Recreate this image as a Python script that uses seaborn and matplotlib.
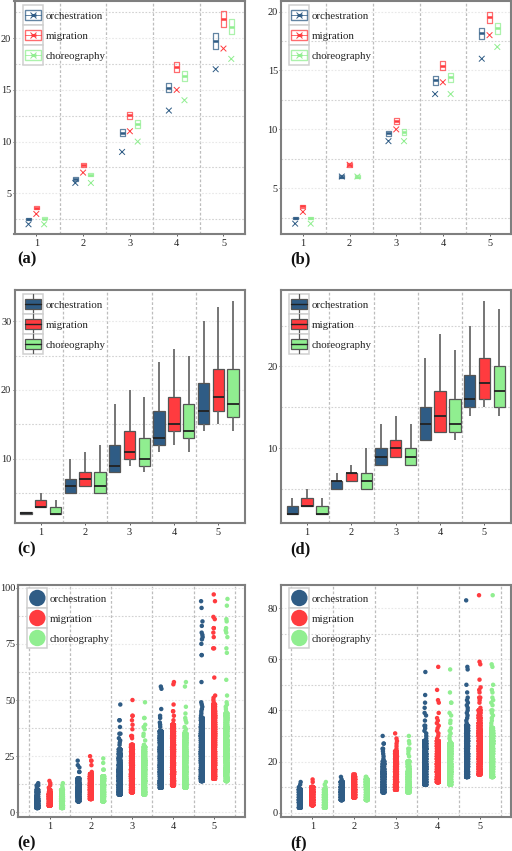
import matplotlib
matplotlib.use("Agg")
import matplotlib.pyplot as plt
import pandas as pd
import seaborn as sns
from matplotlib.legend_handler import HandlerBase
from matplotlib.lines import Line2D
from matplotlib.patches import Ellipse, Patch, Rectangle

sns.set_theme(style="white")
plt.rcParams["font.family"] = ["Liberation Serif", "DejaVu Sans"]

W, H = 512, 851
SERIES = ["orchestration", "migration", "choreography"]
COLORS = ["#2F5C85", "#FF3B3F", "#90EE90"]
PALETTE = dict(zip(SERIES, COLORS))
KEYS = [1, 2, 3, 4, 5]

# ---------- panel (a): min marker and (q1, mid, q3) box ----------
A_MIN = {"orchestration": [2, 6, 9, 13, 17], "migration": [3, 7, 11, 15, 19], "choreography": [2, 6, 10, 14, 18]}
A_ORCH = [(2.4, 2.5, 2.65), (6.2, 6.4, 6.6), (10.5, 10.85, 11.2), (14.8, 15.2, 15.65), (19.0, 19.7, 20.5)]
A_MIG = [(3.5, 3.6, 3.75), (7.55, 7.75, 7.95), (12.2, 12.55, 12.9), (16.75, 17.25, 17.7), (21.1, 21.85, 22.6)]
A_CHOR = [(2.5, 2.55, 2.7), (6.65, 6.8, 7.0), (11.3, 11.7, 12.05), (15.9, 16.3, 16.8), (20.4, 21.1, 21.85)]

# ---------- panel (b) ----------
B_MIN = {"orchestration": [2, 6, 9, 13, 16], "migration": [3, 7, 10, 14, 18], "choreography": [2, 6, 9, 13, 17]}
B_ORCH = [(2.4, 2.5, 2.6), (5.85, 6.0, 6.15), (9.45, 9.7, 9.9), (13.75, 14.2, 14.55), (17.65, 18.2, 18.6)]
B_MIG = [(3.35, 3.5, 3.6), (6.8, 7.0, 7.15), (10.45, 10.75, 11.0), (15.0, 15.4, 15.8), (19.0, 19.5, 20.0)]
B_CHOR = [(2.4, 2.5, 2.6), (5.85, 6.0, 6.15), (9.55, 9.8, 10.05), (14.0, 14.45, 14.8), (18.1, 18.6, 19.05)]

# ---------- panels (c), (d): low, q1, median, q3, high ----------
C_ORCH = [(2, 2, 2.15, 2.3, 2.3), (5, 5, 6, 7, 10), (8, 8, 9, 12, 18), (11, 12, 13, 17, 24), (14, 15, 17, 21, 30)]
C_MIG = [(3, 3, 3, 4, 5), (6, 6, 7, 8, 11), (9, 10, 11, 14, 20), (12, 14, 15, 19, 26), (15, 17, 19, 23, 32)]
C_CHOR = [(2, 2, 2, 3, 4), (5, 5, 6, 8, 12), (8, 9, 10, 13, 19), (11, 13, 14, 18, 25), (14, 16, 18, 23, 33)]

D_ORCH = [(2, 2, 2, 3, 4), (5, 5, 6, 6, 7), (8, 8, 9, 10, 13), (11, 11, 13, 15, 21), (14, 15, 16, 19, 25)]
D_MIG = [(3, 3, 3, 4, 5), (6, 6, 7, 7, 8), (9, 9, 10, 11, 14), (12, 12, 14, 17, 24), (15, 16, 18, 21, 28)]
D_CHOR = [(2, 2, 2, 3, 4), (5, 5, 6, 7, 10), (8, 8, 9, 10, 13), (11, 12, 13, 16, 22), (14, 15, 17, 20, 27)]

# ---------- panels (e), (f): (repeat, values) tiers of the point columns ----------
DENSE, MID, ONE = 30, 14, 1
E_ORCH = [
    [(DENSE, [2, 3, 4, 5, 6, 7]), (MID, [8, 9, 10]), (ONE, [11, 12, 12, 13])],
    [(DENSE, [5, 6, 7, 8, 9, 10, 11, 12, 13, 14, 15]), (ONE, [18, 18, 20, 21, 23])],
    [(DENSE, [8, 9, 10, 11, 12, 13, 14, 15, 16, 17, 18, 19, 20]), (MID, [21, 22, 23, 24, 25, 26, 27, 28]),
     (ONE, [30, 31, 32, 33, 35, 35, 38, 41, 41, 48])],
    [(DENSE, [11, 12, 13, 14, 15, 16, 17, 18, 19, 20, 21, 22, 23, 24, 25, 26, 27, 28, 29, 30, 31, 32, 33, 34, 35, 36]),
     (ONE, [38, 39, 40, 42, 43, 46, 55, 56])],
    [(DENSE, [14, 15, 16, 17, 18, 19, 20, 21, 22, 23, 24, 25, 26, 27, 28, 29, 30, 31, 32, 33, 34, 35]),
     (MID, [36, 37, 38, 39, 40, 41, 42]),
     (ONE, [43, 44, 45, 46, 47, 48, 49, 58, 70, 70, 75, 77, 78, 79, 80, 83, 85, 91, 94])],
]
E_MIG = [
    [(DENSE, [3, 4, 5, 6, 7, 8]), (MID, [9, 10]), (ONE, [11, 12, 13, 14])],
    [(DENSE, [6, 7, 8, 9, 10, 11, 12, 13, 14, 15, 16, 17]), (ONE, [18, 21, 23, 23, 25])],
    [(DENSE, [9, 10, 11, 12, 13, 14, 15, 16, 17, 18, 19, 20, 21, 22, 23, 24]), (MID, [25, 26, 27, 28, 29, 30]),
     (ONE, [33, 34, 34, 37, 39, 41, 43, 43, 50])],
    [(DENSE, [12, 13, 14, 15, 16, 17, 18, 19, 20, 21, 22, 23, 24, 25, 26, 27, 28, 29, 30, 31, 32, 33, 34, 35, 36]),
     (MID, [37, 38, 39]), (ONE, [41, 43, 45, 45, 48, 57, 58])],
    [(DENSE, [15, 16, 17, 18, 19, 20, 21, 22, 23, 24, 25, 26, 27, 28, 29, 30, 31, 32, 33, 34, 35, 36, 37, 38, 39, 40]),
     (MID, [41, 42, 43, 44, 45, 46, 47, 48]),
     (ONE, [49, 50, 51, 52, 60, 73, 73, 78, 80, 82, 82, 86, 87, 94, 97])],
]
E_CHOR = [
    [(DENSE, [2, 3, 4, 5, 6, 7]), (MID, [8, 9, 10]), (ONE, [11, 12, 13])],
    [(DENSE, [5, 6, 7, 8, 9, 10, 11, 12, 13, 14, 15, 16]), (ONE, [19, 19, 22, 24])],
    [(DENSE, [8, 9, 10, 11, 12, 13, 14, 15, 16, 17, 18, 19, 20, 21, 22, 23]), (MID, [24, 25, 26, 27, 28, 29]),
     (ONE, [30, 30, 32, 34, 35, 37, 38, 39, 42, 42, 49])],
    [(DENSE, [11, 12, 13, 14, 15, 16, 17, 18, 19, 20, 21, 22, 23, 24, 25, 26, 27, 28, 29, 30, 31, 32, 33, 34, 35]),
     (ONE, [36, 37, 38, 40, 41, 42, 44, 47, 56, 58])],
    [(DENSE, [14, 15, 16, 17, 18, 19, 20, 21, 22, 23, 24, 25, 26, 27, 28, 29, 30, 31, 32, 33, 34, 35, 36, 37, 38]),
     (MID, [39, 40, 41, 42, 43, 44]),
     (ONE, [45, 46, 47, 48, 49, 52, 59, 71, 73, 78, 80, 81, 82, 85, 86, 92, 95])],
]

F_ORCH = [
    [(DENSE, [2, 3, 4, 5, 6, 7, 8, 9]), (ONE, [10, 11, 12])],
    [(DENSE, [5, 6, 7, 8, 9, 10, 11, 12]), (ONE, [13, 14])],
    [(DENSE, [8, 9, 10, 11, 12, 13, 14, 15, 16]), (MID, [17, 18, 19, 20]), (ONE, [21, 22, 23, 24, 25, 25, 27, 27, 30])],
    [(DENSE, [11, 12, 13, 14, 15, 16, 17, 18, 19, 20, 21, 22, 23, 24, 25, 26, 27, 28]),
     (ONE, [29, 30, 31, 32, 33, 34, 34, 36, 38, 39, 41, 43, 46, 55])],
    [(DENSE, [14, 15, 16, 17, 18, 19, 20, 21, 22, 23, 24, 25, 26, 27, 28, 29, 30, 31, 32, 33, 34]),
     (ONE, [35, 36, 37, 38, 39, 40, 41, 42, 43, 44, 45, 47, 50, 56, 57, 83])],
]
F_MIG = [
    [(DENSE, [3, 4, 5, 6, 7, 8, 9, 10]), (ONE, [12, 13])],
    [(DENSE, [6, 7, 8, 9, 10, 11, 12, 13, 14]), (ONE, [15, 15])],
    [(DENSE, [9, 10, 11, 12, 13, 14, 15, 16, 17, 18, 19]), (MID, [20, 21, 22, 23, 24]), (ONE, [25, 26, 27, 28, 29, 31])],
    [(DENSE, [12, 13, 14, 15, 16, 17, 18, 19, 20, 21, 22, 23, 24, 25, 26, 27, 28]),
     (ONE, [29, 30, 31, 32, 33, 34, 35, 36, 37, 39, 43, 44, 48, 57])],
    [(DENSE, [15, 16, 17, 18, 19, 20, 21, 22, 23, 24, 25, 26, 27, 28, 29, 30, 31, 32, 33, 34, 35]),
     (MID, [36, 37, 38, 39, 40]), (ONE, [41, 43, 44, 45, 45, 47, 48, 49, 52, 58, 59, 85])],
]
F_CHOR = [
    [(DENSE, [2, 3, 4, 5, 6, 7, 8, 9]), (ONE, [10, 11, 12])],
    [(DENSE, [5, 6, 7, 8, 9, 10, 11, 12, 13]), (ONE, [14, 14])],
    [(DENSE, [8, 9, 10, 11, 12, 13, 14, 15, 16]), (MID, [17, 18, 19, 20]), (ONE, [22, 23, 24, 25, 25, 27, 28, 30])],
    [(DENSE, [11, 12, 13, 14, 15, 16, 17, 18, 19, 20, 21, 22, 23, 24, 25, 26, 27]),
     (ONE, [28, 29, 30, 31, 32, 33, 35, 36, 38, 39, 43, 43, 47, 56])],
    [(DENSE, [14, 15, 16, 17, 18, 19, 20, 21, 22, 23, 24, 25, 26, 27, 28, 29, 30, 31, 32, 33]),
     (ONE, [34, 35, 36, 37, 38, 39, 40, 40, 42, 43, 44, 45, 47, 48, 50, 57, 58, 85])],
]

STRIP_OFFSET = {"orchestration": -0.3, "migration": 0.0, "choreography": 0.3}
MARK_OFFSET = {"orchestration": -1 / 6, "migration": 0.0, "choreography": 1 / 6}


def five_frame(orch, mig, chor):
    rows = []
    for name, table in zip(SERIES, (orch, mig, chor)):
        for k, vals in zip(KEYS, table):
            rows += [{"k": k, "s": name, "v": v} for v in vals]
    return pd.DataFrame(rows)


def triple_frame(orch, mig, chor):
    widen = lambda t: [(a, a, b, c, c) for a, b, c in t]
    return five_frame(widen(orch), widen(mig), widen(chor))


def strip_frame(orch, mig, chor):
    rows = []
    for name, table in zip(SERIES, (orch, mig, chor)):
        for k, col in zip(KEYS, table):
            for rep, values in col:
                for v in values:
                    rows += [{"x": k + STRIP_OFFSET[name], "s": name, "v": v}] * rep
    return pd.DataFrame(rows)


class KeyHandler(HandlerBase):
    def __init__(self, kind):
        super().__init__()
        self.kind = kind

    def create_artists(self, legend, h, xd, yd, w, ht, fs, trans):
        shift = 0.8
        x0, y0 = -xd, -yd + shift
        c = h.get_facecolor()
        cx, cy = x0 + w / 2, y0 + ht / 2
        art = [Rectangle((x0, y0), w, ht, fc="white", ec="#cfcfcf", lw=1.1)]
        bw, bh = w * 0.8, ht * 0.5
        if self.kind == "mark":
            art.append(Rectangle((cx - bw / 2, cy - bh / 2), bw, bh, fc="none", ec=c, lw=1.0, alpha=0.75))
            art.append(Line2D([cx - bw / 2, cx + bw / 2], [cy, cy], color=c, lw=0.7, alpha=0.75))
            art.append(Line2D([cx], [cy], color=c, marker="x", ms=3.8, mew=0.7, ls="none"))
            art.append(Line2D([cx - 1.3, cx + 1.3], [cy, cy], color=c, lw=2.0))
        elif self.kind == "box":
            art.append(Line2D([cx, cx], [y0 + 0.5, y0 + ht - 0.5], color="#555555", lw=0.9))
            art.append(Rectangle((cx - bw / 2, cy - bh / 2), bw, bh, fc=c, ec="#555555", lw=0.9))
            art.append(Line2D([cx - bw / 2, cx + bw / 2], [cy, cy], color="#222222", lw=1.0))
        else:
            art.append(Ellipse((cx, cy), w * 0.82, ht * 0.82, fc=c, ec="none"))
        for a in art:
            a.set_transform(trans)
        return art


fig = plt.figure(figsize=(W / 100, H / 100), dpi=100, facecolor="white")


def make_axes(left, right, top, bottom):
    return fig.add_axes([left / W, 1 - bottom / H, (right - left) / W, (bottom - top) / H])


def finish(ax, xlim, ylim, yticks, yminor, xminor, legend_xy, kind, label, label_xy):
    ax.set_xlim(*xlim)
    ax.set_ylim(*ylim)
    ax.set_xlabel("")
    ax.set_ylabel("")
    ax.set_xticks(KEYS, [str(k) for k in KEYS])
    ax.set_xticks(xminor, minor=True)
    ax.set_yticks(yticks, [str(t) for t in yticks])
    ax.set_yticks(yminor, minor=True)
    ax.set_axisbelow(True)
    ax.grid(False)
    ax.grid(True, axis="y", which="major", color="#e8e8e8", lw=0.8, ls=(0, (1.5, 1.5)))
    ax.grid(True, axis="y", which="minor", color="#d2d2d2", lw=0.8, ls=(0, (1.5, 1.5)))
    ax.grid(True, axis="x", which="minor", color="#bdbdbd", lw=0.9, ls=(0, (2.2, 1.6)))
    ax.tick_params(axis="both", which="major", labelsize=7.4, length=1.6, width=0.6, color="#444444",
                   labelcolor="#222222", bottom=True, left=True)
    ax.tick_params(axis="y", which="major", pad=0.7)
    ax.tick_params(axis="x", which="major", pad=2.0)
    ax.tick_params(axis="both", which="minor", length=0)
    for sp in ax.spines.values():
        sp.set_visible(True)
        sp.set_color("#7f7f7f")
        sp.set_linewidth(1.5)
    handles = [Patch(facecolor=c, label=s) for s, c in zip(SERIES, COLORS)]
    ax.legend(handles=handles, handler_map={Patch: KeyHandler(kind)}, loc="upper left",
              bbox_to_anchor=(legend_xy[0] / W, 1 - (legend_xy[1] + 1.1) / H), bbox_transform=fig.transFigure,
              frameon=False, fontsize=7.8, labelspacing=0, borderpad=0, borderaxespad=0,
              handlelength=1.85, handleheight=2.463, handletextpad=0.18, labelcolor="#222222")
    fig.text(label_xy[0] / W, 1 - label_xy[1] / H, label, fontsize=12, fontweight="bold",
             color="#111111", va="center", ha="left")


def mark_panel(ax, frame, mins):
    sns.boxplot(data=frame, x="k", y="v", hue="s", hue_order=SERIES, palette=PALETTE, native_scale=True,
                width=0.5, gap=0.36, fill=False, whis=(0, 100), showcaps=False, fliersize=0, linewidth=0.9,
                boxprops={"alpha": 0.75}, medianprops={"linewidth": 1.8}, legend=False, ax=ax)
    rows = [{"x": k + MARK_OFFSET[s], "s": s, "v": v} for s in SERIES for k, v in zip(KEYS, mins[s])]
    sns.scatterplot(data=pd.DataFrame(rows), x="x", y="v", hue="s", hue_order=SERIES, palette=PALETTE,
                    marker="x", s=17, linewidth=0.7, legend=False, ax=ax)


def box_panel(ax, frame):
    sns.boxplot(data=frame, x="k", y="v", hue="s", hue_order=SERIES, palette=PALETTE, native_scale=True,
                width=1.0, gap=0.235, saturation=1, whis=(0, 100), showcaps=False, fliersize=0, linewidth=0.9,
                linecolor="#555555", whiskerprops={"linewidth": 1.3, "color": "#6a6a6a"},
                medianprops={"linewidth": 1.3, "color": "#222222"}, legend=False, ax=ax)


def strip_panel(ax, frame):
    sns.stripplot(data=frame, x="x", y="v", hue="s", hue_order=SERIES, palette=PALETTE, native_scale=True,
                  orient="x", jitter=0.08, size=3.2, linewidth=0, legend=False, ax=ax)


LEFT_X, RIGHT_X = (14.5, 245), (281, 511)
MID4 = [1.5, 2.5, 3.5, 4.5]
MID6 = [0.5, 1.5, 2.5, 3.5, 4.5, 5.5]

ax = make_axes(*LEFT_X, 1, 234)
mark_panel(ax, triple_frame(A_ORCH, A_MIG, A_CHOR), A_MIN)
finish(ax, (0.534, 5.46), (1.06, 23.6), [5, 10, 15, 20], [2.5, 7.5, 12.5, 17.5, 22.5], MID4, (23.3, 4.7), "mark", "(a)", (17, 259))

ax = make_axes(*RIGHT_X, 1, 234)
mark_panel(ax, triple_frame(B_ORCH, B_MIG, B_CHOR), B_MIN)
finish(ax, (0.53, 5.46), (1.12, 20.9), [5, 10, 15, 20], [2.5, 7.5, 12.5, 17.5], MID4, (289.3, 4.7), "mark", "(b)", (290, 259))

ax = make_axes(*LEFT_X, 290.3, 523.3)
box_panel(ax, five_frame(C_ORCH, C_MIG, C_CHOR))
finish(ax, (0.41, 5.6), (0.6, 34.5), [10, 20, 30], [5, 15, 25], MID4, (23.3, 293.7), "box", "(c)", (17, 549))

ax = make_axes(*RIGHT_X, 290.3, 523.3)
box_panel(ax, five_frame(D_ORCH, D_MIG, D_CHOR))
finish(ax, (0.41, 5.6), (0.85, 29.3), [10, 20], [5, 15, 25], MID4, (289.3, 293.7), "box", "(d)", (290, 549))

ax = make_axes(18.3, 245, 585, 817.3)
strip_panel(ax, strip_frame(E_ORCH, E_MIG, E_CHOR))
finish(ax, (0.236, 5.75), (-2.2, 101.2), [0, 25, 50, 75, 100], [12.5, 37.5, 62.5, 87.5], MID6, (27.3, 588), "dot", "(e)", (17, 843))

ax = make_axes(*RIGHT_X, 585, 817.3)
strip_panel(ax, strip_frame(F_ORCH, F_MIG, F_CHOR))
finish(ax, (0.25, 5.75), (-1.8, 89), [0, 20, 40, 60, 80], [10, 30, 50, 70], MID6, (289.3, 588), "dot", "(f)", (290, 843))

fig.savefig("out.png", dpi=100)
